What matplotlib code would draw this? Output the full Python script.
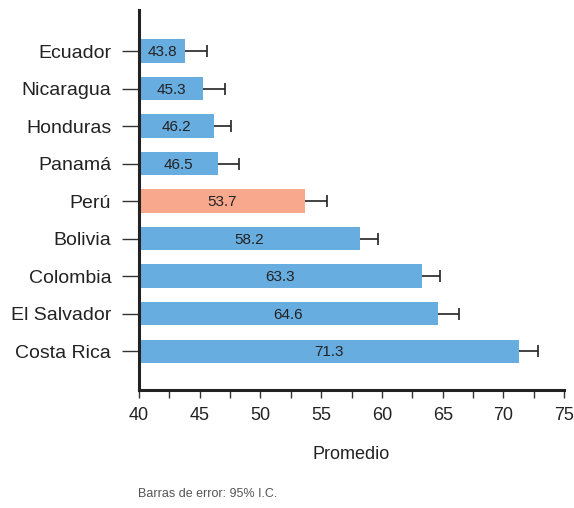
import numpy as np
import matplotlib.pyplot as plt
from matplotlib.ticker import MultipleLocator

plt.rcParams['font.family'] = ['Liberation Sans Narrow', 'Liberation Sans', 'DejaVu Sans']

paises = ['Ecuador', 'Nicaragua', 'Honduras', 'Panamá', 'Perú',
          'Bolivia', 'Colombia', 'El Salvador', 'Costa Rica']
promedio = [43.8, 45.3, 46.2, 46.5, 53.7, 58.2, 63.3, 64.6, 71.3]
limite_sup = [45.6, 47.1, 47.6, 48.2, 55.5, 59.7, 64.8, 66.3, 72.8]

azul = '#68ade0'
salmon = '#f8a88c'
colores = [salmon if p == 'Perú' else azul for p in paises]

y = np.arange(len(paises))[::-1]

fig = plt.figure(figsize=(5.74, 5.08), dpi=100)
ax = fig.add_axes([0.242, 0.232, 0.741, 0.748])

base = 40
ax.barh(y, np.array(promedio) - base, left=base, height=0.62, color=colores)

# solo el lado superior del intervalo
ax.hlines(y, promedio, limite_sup, color='#222222', lw=1.2, zorder=3)
ax.plot(limite_sup, y, ls='none', marker='|', ms=9, mew=1.2, color='#222222', zorder=3)

for yi, v in zip(y, promedio):
    ax.text((base + v) / 2, yi - 0.03, f'{v:.1f}', ha='center', va='center',
            fontsize=11, color='#222222')

ax.set_xlim(40, 75)
ax.set_ylim(-1.04, 9.09)
ax.set_yticks(y)
ax.set_yticklabels(paises, fontsize=14, color='#222222')
ax.xaxis.set_major_locator(MultipleLocator(5))
ax.xaxis.set_minor_locator(MultipleLocator(2.5))
ax.tick_params(axis='x', which='both', length=6, width=1, color='#333333',
               labelsize=13, labelcolor='#222222', pad=6)
ax.tick_params(axis='y', length=12, width=1, color='#333333', pad=8)

for s in ['top', 'right']:
    ax.spines[s].set_visible(False)
for s in ['left', 'bottom']:
    ax.spines[s].set_linewidth(2.2)
    ax.spines[s].set_color('#222222')

ax.set_xlabel('Promedio', fontsize=13, color='#222222', labelpad=16)
fig.text(0.24, 0.022, 'Barras de error: 95% I.C.', fontsize=9, color='#555555')

fig.savefig('out.png', dpi=100)
